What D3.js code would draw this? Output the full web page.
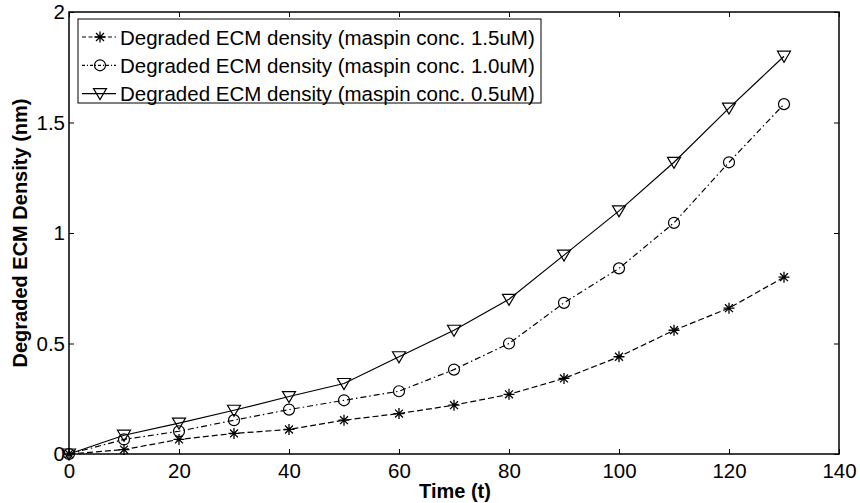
<!DOCTYPE html>
<html>
<head>
<meta charset="utf-8">
<script src="https://cdn.jsdelivr.net/npm/d3@7"></script>
<style>
  body { margin: 0; background: #fff; }
  text { font-family: "Liberation Sans", Arial, sans-serif; }
</style>
</head>
<body>
<div id="chart"></div>
<script>
const times = [0, 10, 20, 30, 40, 50, 60, 70, 80, 90, 100, 110, 120, 130];
const conc15 = [0, 0.02, 0.066, 0.093, 0.111, 0.153, 0.183, 0.221, 0.27, 0.342, 0.44, 0.56, 0.66, 0.80];
const conc10 = [0, 0.066, 0.103, 0.153, 0.201, 0.243, 0.284, 0.382, 0.50, 0.684, 0.84, 1.046, 1.32, 1.583];
const conc05 = [0, 0.085, 0.14, 0.198, 0.26, 0.319, 0.44, 0.56, 0.70, 0.90, 1.10, 1.32, 1.565, 1.80];
const xTicks = [0, 20, 40, 60, 80, 100, 120, 140];
const yTicks = [0, 0.5, 1, 1.5, 2];
const seriesNames = [
  "Degraded ECM density (maspin conc. 1.5uM)",
  "Degraded ECM density (maspin conc. 1.0uM)",
  "Degraded ECM density (maspin conc. 0.5uM)"
];

const width = 860, height = 503;
const margin = { top: 12, right: 21, bottom: 49, left: 69 };
const w = width - margin.left - margin.right;
const h = height - margin.top - margin.bottom;

const svg = d3.select("#chart").append("svg")
  .attr("width", width)
  .attr("height", height);

const g = svg.append("g")
  .attr("transform", `translate(${margin.left}, ${margin.top})`);

const x = d3.scaleLinear().domain([0, 140]).range([0, w]);
const y = d3.scaleLinear().domain([0, 2]).range([h, 0]);

// box
g.append("rect")
  .attr("width", w).attr("height", h)
  .attr("fill", "none").attr("stroke", "#000").attr("stroke-width", 1.5);

// axes with inward ticks (matlab style)
const fmt = d => d3.format("")(d);
g.append("g").attr("transform", `translate(0, ${h})`)
  .call(d3.axisBottom(x).tickValues(xTicks).tickSize(-5).tickPadding(9).tickFormat(fmt))
  .call(a => a.select(".domain").remove());
g.append("g")
  .call(d3.axisTop(x).tickValues(xTicks).tickSize(-5).tickFormat(""))
  .call(a => a.select(".domain").remove());
g.append("g")
  .call(d3.axisLeft(y).tickValues(yTicks).tickSize(-5).tickPadding(4).tickFormat(fmt))
  .call(a => a.select(".domain").remove());
g.append("g").attr("transform", `translate(${w}, 0)`)
  .call(d3.axisRight(y).tickValues(yTicks).tickSize(-5).tickFormat(""))
  .call(a => a.select(".domain").remove());

g.selectAll(".tick text").attr("font-size", 20.5).attr("fill", "#000")
  .attr("font-family", "'Liberation Sans', Arial, sans-serif");
g.selectAll(".tick line").attr("stroke", "#000");

// axis titles
svg.append("text")
  .attr("x", margin.left + w / 2 + 1).attr("y", 498)
  .attr("text-anchor", "middle").attr("font-size", 20).attr("font-weight", "bold")
  .text("Time (t)");
svg.append("text")
  .attr("transform", `translate(27, ${margin.top + h / 2}) rotate(-90)`)
  .attr("text-anchor", "middle").attr("font-size", 20).attr("font-weight", "bold")
  .text("Degraded ECM Density (nm)");

const series = [
  { name: seriesNames[0], values: conc15, dash: "6,3", legendDash: "4,2.5", marker: "star" },
  { name: seriesNames[1], values: conc10, dash: "6,3,1.5,3", legendDash: "3,2,1,2", marker: "circle" },
  { name: seriesNames[2], values: conc05, dash: null, legendDash: null, marker: "tri" }
];

function drawMarker(sel, type) {
  if (type === "star") {
    const r = 5.5;
    sel.append("path")
      .attr("d", `M${-r},0L${r},0M0,${-r}L0,${r}M${-r * 0.72},${-r * 0.72}L${r * 0.72},${r * 0.72}M${-r * 0.72},${r * 0.72}L${r * 0.72},${-r * 0.72}`)
      .attr("stroke", "#000").attr("stroke-width", 1.3).attr("fill", "none");
  } else if (type === "circle") {
    sel.append("circle").attr("r", 5.5)
      .attr("stroke", "#000").attr("stroke-width", 1.2).attr("fill", "none");
  } else {
    sel.append("path").attr("d", "M-6.5,-5L6.5,-5L0,6Z")
      .attr("stroke", "#000").attr("stroke-width", 1.2).attr("fill", "none");
  }
}

const line = d3.line().x((d, i) => x(times[i])).y(d => y(d));

series.forEach(s => {
  g.append("path").datum(s.values)
    .attr("d", line)
    .attr("fill", "none").attr("stroke", "#000").attr("stroke-width", 1.2)
    .attr("stroke-dasharray", s.dash);
  s.values.forEach((v, i) => {
    const m = g.append("g").attr("transform", `translate(${x(times[i])}, ${y(v)})`);
    drawMarker(m, s.marker);
  });
});

// legend
const legend = svg.append("g").attr("transform", "translate(78, 19)");
legend.append("rect")
  .attr("width", 463).attr("height", 84)
  .attr("fill", "#fff").attr("stroke", "#000").attr("stroke-width", 1);
series.forEach((s, i) => {
  const ly = 18 + i * 28.3;
  legend.append("line")
    .attr("x1", 4).attr("x2", 38).attr("y1", ly).attr("y2", ly)
    .attr("stroke", "#000").attr("stroke-width", 1.2)
    .attr("stroke-dasharray", s.legendDash);
  const m = legend.append("g").attr("transform", `translate(22, ${ly})`);
  drawMarker(m, s.marker);
  legend.append("text")
    .attr("x", 42).attr("y", ly + 7.5)
    .attr("font-size", 20.5)
    .text(s.name);
});
</script>
</body>
</html>
